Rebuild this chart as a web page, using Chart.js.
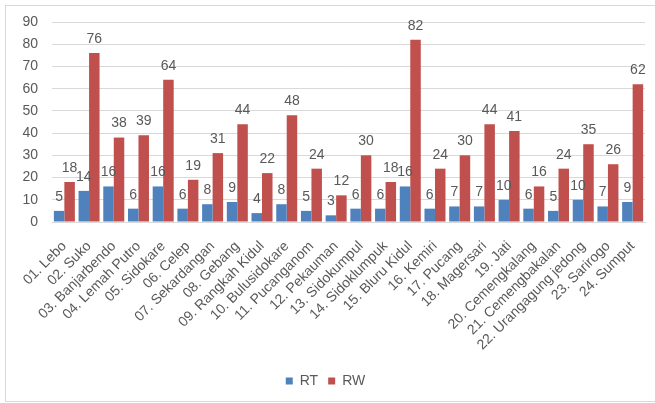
<!DOCTYPE html>
<html>
<head>
<meta charset="utf-8">
<script src="https://cdn.jsdelivr.net/npm/chart.js@4"></script>
<style>
  html, body { margin: 0; padding: 0; background: #fff; overflow: hidden; }
  #wrap {
    position: absolute; left: 5px; top: 5px; width: 651px; height: 397px;
    border: 1px solid #d9d9d9; box-sizing: border-box;
  }
  canvas { display: block; }
</style>
</head>
<body>
<div id="wrap"><canvas id="chart"></canvas></div>
<script>
const categories = ['01. Lebo', '02. Suko', '03. Banjarbendo', '04. Lemah Putro', '05. Sidokare', '06. Celep',
  '07. Sekardangan', '08. Gebang', '09. Rangkah Kidul', '10. Bulusidokare', '11. Pucanganom', '12. Pekauman',
  '13. Sidokumpul', '14. Sidoklumpuk', '15. Bluru Kidul', '16. Kemiri', '17. Pucang', '18. Magersari',
  '19. Jati', '20. Cemengkalang', '21. Cemengbakalan', '22. Urangagung jedong', '23. Sarirogo', '24. Sumput'];
const rtValues = [5, 14, 16, 6, 16, 6, 8, 9, 4, 8, 5, 3, 6, 6, 16, 6, 7, 7, 10, 6, 5, 10, 7, 9];
const rwValues = [18, 76, 38, 39, 64, 19, 31, 44, 22, 48, 24, 12, 30, 18, 82, 24, 30, 44, 41, 16, 24, 35, 26, 62];
const yTicks = [0, 10, 20, 30, 40, 50, 60, 70, 80, 90];

const textColor = '#595959';
const fontFamily = '"Liberation Sans", Arial, sans-serif';
const fontSize = 14;
const plotBottom = 216;   // canvas px where the 0 line sits
const padBottom = 3;

// draws the value above each bar
const valueLabels = {
  id: 'valueLabels',
  afterDatasetsDraw(chart) {
    const ctx = chart.ctx;
    ctx.save();
    ctx.font = fontSize + 'px ' + fontFamily;
    ctx.fillStyle = textColor;
    ctx.textAlign = 'center';
    ctx.textBaseline = 'bottom';
    chart.data.datasets.forEach((ds, i) => {
      chart.getDatasetMeta(i).data.forEach((bar, j) => {
        ctx.fillText(ds.data[j], bar.x, bar.y - 7);
      });
    });
    ctx.restore();
  }
};

new Chart(document.getElementById('chart'), {
  type: 'bar',
  data: {
    labels: categories,
    datasets: [
      { label: 'RT', data: rtValues, backgroundColor: '#4F81BD', categoryPercentage: 0.85, barPercentage: 1 },
      { label: 'RW', data: rwValues, backgroundColor: '#C0504D', categoryPercentage: 0.85, barPercentage: 1 }
    ]
  },
  options: {
    responsive: true,
    maintainAspectRatio: false,
    animation: false,
    layout: { padding: { top: 16, right: 10, left: 0, bottom: padBottom } },
    plugins: {
      legend: {
        position: 'bottom',
        labels: { boxWidth: 7, boxHeight: 7, color: textColor, font: { size: fontSize, family: fontFamily }, padding: 10 }
      },
      tooltip: { enabled: false }
    },
    scales: {
      x: {
        grid: { display: false },
        border: { color: '#d9d9d9' },
        ticks: { color: textColor, font: { size: fontSize, family: fontFamily }, minRotation: 45, maxRotation: 45, autoSkip: false, padding: 8 },
        afterFit(axis) {
          const legendH = axis.chart.legend ? axis.chart.legend.height : 0;
          axis.height = axis.chart.height - padBottom - legendH - plotBottom;
        }
      },
      y: {
        min: 0, max: 90,
        afterBuildTicks(axis) { axis.ticks = yTicks.map(v => ({ value: v })); },
        afterFit(axis) {
          axis.width = 46;
          axis.paddingTop = 0;
          axis.paddingBottom = 0;
        },
        grid: { color: '#d9d9d9', drawTicks: false },
        border: { display: false },
        ticks: { color: textColor, font: { size: fontSize, family: fontFamily }, padding: 14 }
      }
    }
  },
  plugins: [valueLabels]
});
</script>
</body>
</html>
